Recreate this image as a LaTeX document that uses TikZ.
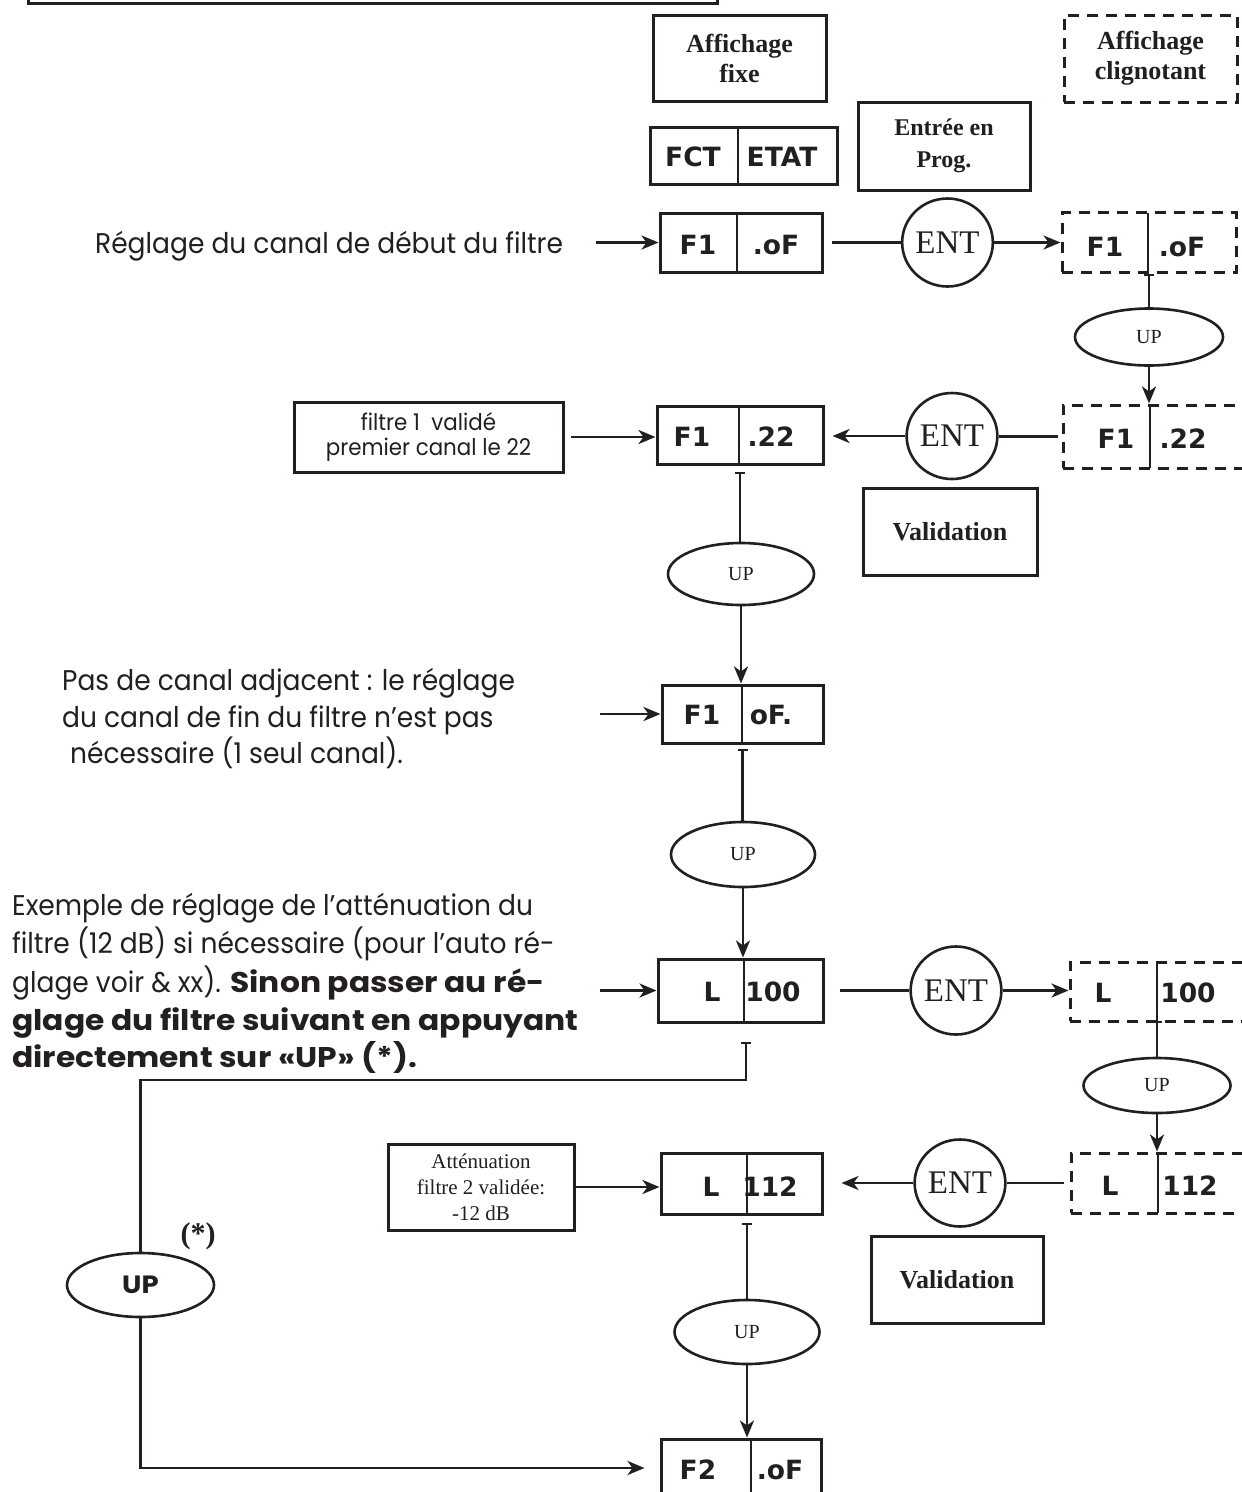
\documentclass[tikz,border=0pt]{standalone}
\usepackage{fontspec}
\setmainfont{Poppins}[UprightFeatures={FakeStretch=0.93},BoldFeatures={FakeStretch=1.10}]
\newfontfamily\serf{Liberation Serif}
\newfontfamily\digi{DejaVu Sans}
\usetikzlibrary{shapes.geometric,arrows.meta}
\definecolor{ink}{RGB}{35,31,32}
\tikzset{
  box/.style={draw=ink,line width=3pt,rectangle,inner sep=0pt},
  dbox/.style={box,dash pattern=on 11pt off 8pt},
  ell/.style={draw=ink,line width=2.6pt,ellipse,inner sep=0pt},
  entl/.style={ell,font=\serf\fontsize{33}{33}\selectfont},
  upl/.style={ell,font=\serf\fontsize{20}{20}\selectfont},
  conn/.style={draw=ink,line width=2.8pt},
  arr/.style={conn,-{Stealth[length=17pt,width=14pt,inset=5pt]}},
  barc/.style={conn,{Bar[width=10pt,line width=2.4pt]}-},
  divl/.style={draw=ink,line width=1.4pt},
  digit/.style={inner sep=0pt,font=\digi\bfseries\fontsize{26.5}{26.5}\selectfont},
  body/.style={inner sep=0pt,anchor=base west,font=\fontsize{28.5}{37.5}\selectfont},
  sbold/.style={box,align=center,font=\serf\bfseries\fontsize{26}{30}\selectfont}
}
\begin{document}
\begin{tikzpicture}[x=1pt,y=-1pt,color=ink]
\useasboundingbox (0,0) rectangle (1242,1492);
\clip (0,0) rectangle (1242,1492);
\fill[white] (0,0) rectangle (1242,1492);

% cut box at top
\draw[box] (28,-40) rectangle (717,3);

% legend
\node[sbold,minimum width=173pt,minimum height=86pt] (afix) at (739.5,58) {Affichage\\fixe};
\node[sbold,dash pattern=on 11pt off 8pt,minimum width=173pt,minimum height=87pt] (aclig) at (1150.5,58.5) {Affichage\\clignotant};
\node[box,minimum width=187pt,minimum height=57pt] (fct) at (743.5,155.5) {};
\draw[divl] (738,127) -- (738,184);
\node[digit] (fctl) at (693,157) {FCT};
\node[digit] (fctr) at (782,157) {ETAT};
\node[box,align=center,minimum width=172pt,minimum height=88pt,font=\serf\bfseries\fontsize{24}{32}\selectfont] (prog) at (944,146) {Entrée en\\Prog.};

% row 1
\node[body] (reg) at (95,253) {Réglage du canal de début du filtre};
\coordinate (s1) at (596,242.5);
\node[box,minimum width=162pt,minimum height=59pt] (b1) at (741,242.5) {};
\draw[divl] (737,213) -- (737,272);
\node[digit] (b1l) at (698,245) {F1};
\node[digit] (b1r) at (776,245) {.oF};
\node[entl,minimum width=85pt,minimum height=88pt] (ent1) at (947.5,242.5) {ENT};
\node[dbox,minimum width=174pt,minimum height=60pt] (d1) at (1149,242.5) {};
\draw[divl] (1148,213) -- (1148,273);
\node[digit] (d1l) at (1105,247) {F1};
\node[digit] (d1r) at (1182,247) {.oF};
\draw[arr] (s1) -- (b1.west);
\draw[conn,shorten <=8pt] (b1.east) -- (ent1.west);
\draw[arr] (ent1.east) -- (d1.west);

\node[upl,minimum width=148pt,minimum height=57pt] (up1) at (1149,337) {UP};
\draw[barc] (d1.south) -- (up1.north);

% row 2
\node[dbox,minimum width=197pt,minimum height=63pt] (d2) at (1161.5,436.5) {};
\draw[divl] (1150,405) -- (1150,468);
\node[digit] (d2l) at (1116,439) {F1};
\node[digit] (d2r) at (1183,439) {.22};
\draw[arr] (up1.south) -- (up1.south |- d2.north);
\node[entl,minimum width=88pt,minimum height=86pt] (ent2) at (952,436) {ENT};
\draw[conn,shorten <=4pt] (d2.west) -- (d2.west -| ent2.east);
\node[box,minimum width=166pt,minimum height=58pt] (b2) at (740,435) {};
\draw[divl] (739,406) -- (739,464);
\node[digit] (b2l) at (692,436.5) {F1};
\node[digit] (b2r) at (771,436.5) {.22};
\draw[arr,shorten >=8pt] (ent2.west) -- (ent2.west -| b2.east);
\node[box,align=center,minimum width=269pt,minimum height=70pt,font=\fontsize{23}{25}\selectfont] (t1) at (428.5,437) {filtre 1\ \ validé\\premier canal le 22};
\draw[arr,shorten <=6pt] (t1.east) -- (t1.east -| b2.west);
\node[sbold,minimum width=174pt,minimum height=87pt] (val1) at (950,531.5) {Validation};

\node[upl,minimum width=146pt,minimum height=62pt] (up2) at (741,574) {UP};
\draw[barc,shorten <=6pt] (b2.south) -- (b2.south |- up2.north);

% row 3
\node[box,minimum width=161pt,minimum height=58pt] (b3) at (742.5,714) {};
\draw[divl] (742,685) -- (742,743);
\node[digit] (b3l) at (702,715) {F1};
\node[digit] (b3r) at (771,715) {oF.};
\draw[arr] (up2.south) -- (up2.south |- b3.north);
\coordinate (s3) at (600,714);
\draw[arr] (s3) -- (b3.west);
\node[body] (pas1) at (62,690) {Pas de canal adjacent : le réglage};
\node[body] (pas2) at (62,727) {du canal de fin du filtre n’est pas};
\node[body] (pas3) at (70,763) {nécessaire (1 seul canal).};

\node[upl,minimum width=144pt,minimum height=65pt] (up3) at (743,854.5) {UP};
\draw[barc,shorten <=4pt] (b3.south) -- (b3.south |- up3.north);

% row 4
\node[box,minimum width=165pt,minimum height=63pt] (b4) at (740.5,990.5) {};
\draw[divl] (744,959) -- (744,1022);
\node[digit] (b4l) at (712,992) {L};
\node[digit] (b4r) at (773,992) {100};
\draw[arr] (up3.south) -- (up3.south |- b4.north);
\coordinate (s4) at (600,990.5);
\draw[arr] (s4) -- (b4.west);
\node[body] (ex1) at (12,915) {Exemple de réglage de l’atténuation du};
\node[body] (ex2) at (12,953) {filtre (12 dB) si nécessaire (pour l’auto ré-};
\node[body] (ex3) at (12,992) {glage voir \& xx). \textbf{Sinon passer au ré-}};
\node[body] (ex4) at (12,1030) {\textbf{glage du filtre suivant en appuyant}};
\node[body] (ex5) at (12,1067) {\textbf{directement sur «UP» (*).}};

\node[entl,minimum width=88pt,minimum height=88pt] (ent3) at (956,990.5) {ENT};
\draw[conn,shorten <=15pt] (b4.east) -- (ent3.west);
\node[dbox,minimum width=190pt,minimum height=59pt] (d3) at (1165,991.5) {};
\draw[divl] (1157,962) -- (1157,1021);
\node[digit] (d3l) at (1103,993) {L};
\node[digit] (d3r) at (1188,993) {100};
\draw[arr] (ent3.east) -- (ent3.east -| d3.west);

\node[upl,minimum width=147pt,minimum height=55pt] (up4) at (1157,1085.5) {UP};
\coordinate (d3s) at (1157,1021);
\draw[barc] (d3s) -- (up4.north);

% row 5
\node[dbox,minimum width=189pt,minimum height=60pt] (d4) at (1165.5,1183) {};
\draw[divl] (1158,1153) -- (1158,1213);
\node[digit] (d4l) at (1110,1186) {L};
\node[digit] (d4r) at (1190,1186) {112};
\draw[arr] (up4.south) -- (up4.south |- d4.north);
\node[entl,minimum width=86pt,minimum height=87pt] (ent4) at (960,1183) {ENT};
\draw[conn,shorten <=6pt] (d4.west) -- (d4.west -| ent4.east);
\node[box,minimum width=161pt,minimum height=61pt] (b5) at (741.5,1183.5) {};
\draw[divl] (747,1153) -- (747,1214);
\node[digit] (b5l) at (711,1187) {L};
\node[digit] (b5r) at (770,1187) {112};
\draw[arr,shorten >=18pt] (ent4.west) -- (ent4.west -| b5.east);
\node[box,align=center,minimum width=186pt,minimum height=86pt,font=\serf\fontsize{21}{26}\selectfont] (att) at (481,1187) {Atténuation\\filtre 2 validée:\\-12 dB};
\draw[arr] (att.east) -- (att.east -| b5.west);
\node[sbold,minimum width=172pt,minimum height=87pt] (val2) at (957,1279.5) {Validation};

\node[upl,minimum width=145pt,minimum height=64pt] (up5) at (747,1332) {UP};
\coordinate (b5s) at (747,1223);
\draw[barc] (b5s) -- (b5s |- up5.north);

% row 6
\node[box,minimum width=160pt,minimum height=58pt] (b6) at (741,1468) {};
\draw[divl] (751,1439) -- (751,1497);
\node[digit] (b6l) at (698,1470) {F2};
\node[digit] (b6r) at (780,1470) {.oF};
\draw[arr] (up5.south) -- (up5.south |- b6.north);

% loop
\node[ell,minimum width=147pt,minimum height=64pt,font=\bfseries\fontsize{25}{25}\selectfont] (ups) at (140.5,1285) {UP};
\node[inner sep=0pt,font=\serf\bfseries\fontsize{30}{30}\selectfont] (star) at (198,1236) {(*)};
\coordinate (b4s) at (746,1042);
\coordinate (lk) at (140.5,1080);
\draw[barc] (b4s) |- (lk) -- (ups.north);
\draw[arr,shorten >=15pt] (ups.south) |- (b6.west);
\end{tikzpicture}
\end{document}
